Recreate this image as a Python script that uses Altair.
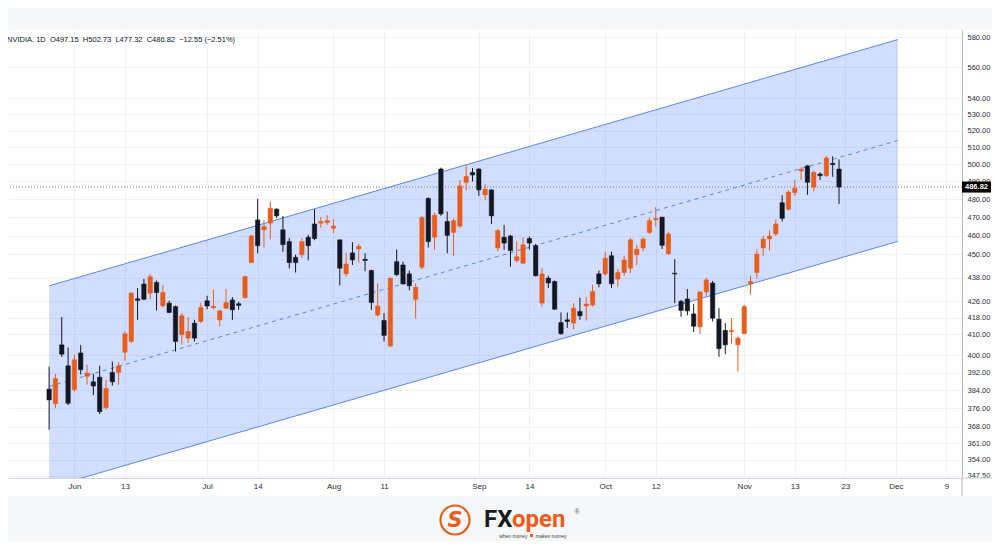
import altair as alt
import pandas as pd

# ---- data (NVIDIA daily candles, bar index 0 = 25 May) ----
opens = [384.5, 378.0, 404.9, 395.1, 384.2, 401.1, 390.3, 387.8, 389.9, 376.3,
         392.1, 392.1, 401.4, 406.5, 427.3, 434.7, 430.1, 435.5, 423.8, 425.1,
         423.4, 409.7, 408.1, 415.3, 416.1, 426.3, 422.8, 416.9, 422.6, 426.7,
         424.8, 427.8, 445.7, 468.5, 463.1, 466.7, 474.4, 463.1, 456.8, 448.5,
         449.8, 459.1, 466.3, 466.7, 467.0, 463.9, 457.7, 439.9, 450.8, 452.9,
         447.5, 441.6, 419.2, 416.6, 404.4, 446.2, 444.5, 439.9, 427.0, 443.3,
         480.4, 459.1, 497.2, 467.6, 461.7, 465.1, 489.5, 495.2, 497.2, 482.4,
         485.2, 453.4, 459.1, 459.8, 446.8, 445.4, 458.4, 454.6, 425.1, 437.7,
         436.0, 415.6, 416.9, 415.3, 421.0, 423.7, 424.2, 439.9, 439.9, 449.3,
         437.2, 440.6, 442.8, 449.8, 453.4, 461.7, 468.5, 470.0, 450.3, 440.3,
         426.0, 427.2, 419.8, 413.5, 430.7, 435.2, 417.2, 411.8, 411.2, 404.9,
         410.2, 434.8, 440.6, 453.4, 458.2, 460.9, 478.0, 474.4, 483.7, 496.0,
         499.0, 486.8, 494.3, 493.3, 500.5, 497.15]
highs = [394.8, 391.4, 418.3, 403.6, 400.2, 404.9, 395.6, 391.4, 395.1, 388.7,
         397.1, 396.7, 411.3, 430.6, 432.7, 437.3, 439.8, 436.5, 434.2, 426.3,
         423.9, 420.2, 418.2, 416.9, 425.4, 428.8, 431.8, 421.8, 432.2, 428.1,
         425.8, 438.9, 460.4, 480.1, 468.5, 478.6, 474.9, 470.7, 458.6, 449.8,
         458.6, 460.4, 474.4, 470.2, 471.1, 468.8, 458.0, 450.8, 456.5, 455.6,
         450.6, 442.0, 435.1, 420.2, 438.0, 452.6, 446.2, 441.6, 435.1, 470.7,
         481.0, 472.4, 498.0, 473.1, 469.3, 490.8, 499.3, 497.7, 497.6, 488.5,
         485.6, 463.5, 465.8, 460.4, 456.8, 459.1, 459.5, 455.6, 442.8, 438.9,
         436.5, 420.5, 420.5, 425.1, 427.8, 428.2, 434.3, 441.6, 451.4, 451.4,
         442.3, 449.3, 458.6, 454.9, 459.1, 469.8, 475.6, 470.2, 462.1, 447.5,
         426.7, 432.2, 424.7, 430.9, 437.7, 436.3, 422.6, 415.3, 417.7, 408.9,
         424.2, 438.9, 452.6, 459.8, 462.7, 468.8, 482.2, 484.9, 490.9, 498.2,
         499.5, 496.3, 495.2, 504.8, 504.7, 502.73]
lows = [366.7, 376.0, 399.3, 377.5, 383.4, 391.1, 386.5, 381.8, 373.5, 375.3,
        386.1, 386.5, 397.5, 405.8, 416.9, 426.7, 427.0, 421.5, 422.9, 420.2,
        401.8, 405.0, 405.8, 406.5, 415.3, 422.1, 422.0, 413.8, 422.1, 416.9,
        421.8, 427.5, 445.4, 450.6, 453.7, 458.0, 469.5, 451.4, 442.7, 440.6,
        448.1, 446.8, 457.5, 464.2, 465.8, 461.4, 434.0, 438.4, 444.5, 445.7,
        441.2, 421.8, 418.4, 406.5, 403.7, 438.7, 434.3, 431.5, 417.5, 442.3,
        453.7, 452.4, 470.8, 450.6, 449.3, 463.9, 485.0, 490.0, 481.8, 479.3,
        466.3, 451.6, 452.4, 443.6, 445.7, 445.0, 452.6, 438.6, 423.4, 432.7,
        421.8, 409.7, 413.0, 412.4, 416.9, 416.6, 423.4, 433.1, 438.9, 432.7,
        433.4, 438.9, 440.2, 444.5, 451.6, 460.8, 464.8, 452.9, 449.8, 425.1,
        418.4, 419.1, 411.0, 410.1, 428.9, 416.1, 399.3, 400.5, 405.4, 392.4,
        410.0, 429.4, 437.7, 449.3, 452.0, 459.8, 467.6, 473.7, 481.9, 490.8,
        482.4, 484.4, 490.8, 492.6, 492.7, 477.32]
closes = [379.7, 389.3, 400.5, 378.2, 397.9, 393.3, 391.8, 385.9, 374.5, 384.8,
          387.8, 395.1, 410.2, 430.1, 426.5, 427.0, 438.4, 430.4, 430.4, 420.5,
          406.5, 418.9, 411.3, 408.1, 423.0, 423.7, 423.6, 421.3, 425.4, 421.8,
          424.0, 438.5, 459.8, 454.6, 464.8, 474.9, 470.7, 455.1, 445.7, 445.7,
          456.8, 454.6, 458.4, 467.7, 468.1, 465.1, 442.8, 445.0, 447.1, 454.3,
          446.8, 425.4, 423.7, 409.4, 437.7, 439.5, 434.8, 433.8, 433.1, 469.8,
          456.8, 471.1, 471.8, 460.1, 468.1, 487.5, 492.9, 493.7, 485.2, 485.6,
          470.7, 462.7, 456.0, 452.0, 448.8, 455.1, 456.0, 438.9, 439.9, 435.2,
          422.1, 410.2, 416.1, 422.6, 418.9, 424.7, 430.9, 434.8, 448.0, 434.8,
          440.6, 447.1, 457.7, 452.8, 458.1, 468.1, 469.3, 454.8, 460.9, 439.8,
          421.5, 421.3, 413.8, 430.7, 436.8, 417.7, 403.1, 404.9, 411.8, 408.1,
          423.4, 436.0, 450.2, 458.1, 459.8, 466.3, 469.3, 484.0, 486.1, 497.0,
          489.5, 495.2, 493.3, 503.6, 499.7, 486.82]

# parallel channel anchor points (bar index, price)
channel_idx = [0.0, 134.3]
channel_upper = [433.8, 578.3]
channel_mid = [385.7, 514.0]
channel_lower = [342.8, 456.9]

x_ticks = [4, 12, 25, 33, 45, 53, 68, 76, 88, 96, 110, 118, 126, 134, 142]
x_labels = ["Jun", "13", "Jul", "14", "Aug", "11", "Sep", "14", "Oct", "12",
            "Nov", "13", "23", "Dec", "9"]
y_ticks = [347.5, 354, 361, 368, 376, 384, 392, 400, 410, 418, 426, 438, 450,
           460, 470, 480, 490, 500, 510, 520, 530, 540, 560, 580]

header = "NVIDIA, 1D \u00a0O497.15 \u00a0H502.73 \u00a0L477.32 \u00a0C486.82 \u00a0\u221212.55 (\u22122.51%)"
last_price = closes[-1]

ORANGE = "#e85d1c"
BLACK = "#131722"
CH = "#5a86f0"
FONT = "Liberation Sans"

# ---- tables ----
cdf = pd.DataFrame({"idx": list(range(len(closes))), "open": opens, "high": highs,
                    "low": lows, "close": closes})
cdf["dir"] = ["up" if c >= o else "down" for o, c in zip(opens, closes)]
cdf["body_lo"] = cdf[["open", "close"]].min(axis=1)
cdf["body_hi"] = cdf[["open", "close"]].max(axis=1)

chdf = pd.DataFrame({"idx": channel_idx, "upper": channel_upper,
                     "mid": channel_mid, "lower": channel_lower})
one = pd.DataFrame({"a": [0]})
pdf = pd.DataFrame({"price": [last_price], "label": [f"{last_price:.2f}"]})

# ---- scales / axes ----
label_expr = " : ".join(f"datum.value == {t} ? '{l}'" for t, l in zip(x_ticks, x_labels)) + " : ''"
xscale = alt.Scale(domain=[-5.716, 143.67], nice=False, zero=False)
yscale = alt.Scale(type="log", domain=[346.6, 584.8], nice=False, zero=False)
xaxis = alt.Axis(values=x_ticks, labelExpr=label_expr, title=None, ticks=False,
                 labelPadding=4, labelFontSize=8, labelFont=FONT, labelColor="#2a2e39",
                 gridColor="#eef1f6", domainColor="#d1d4dc", labelOverlap=False,
                 labelFlush=False)
yaxis = alt.Axis(orient="right", values=y_ticks, format=".2f", title=None, ticks=False,
                 labelPadding=5, labelFontSize=7.5, labelFont=FONT, labelColor="#2a2e39",
                 gridColor="#eef1f6", domainColor="#b2b5be", labelOverlap=False,
                 labelFlush=False)


def X(f):
    return alt.X(f"{f}:Q", scale=xscale, axis=xaxis)


def Y(f):
    return alt.Y(f"{f}:Q", scale=yscale, axis=yaxis)


cscale = alt.Scale(domain=["up", "down"], range=[ORANGE, BLACK])

# ---- layers ----
band_top = alt.Chart(one).mark_rect(color="#f6f7f9").encode(
    x=alt.value(-8), x2=alt.value(990), y=alt.value(-22), y2=alt.value(0))
band_bot = alt.Chart(one).mark_rect(color="#f6f7f9").encode(
    x=alt.value(-8), x2=alt.value(990), y=alt.value(466), y2=alt.value(520))
sep_v = alt.Chart(one).mark_rule(color="#b2b5be").encode(
    x=alt.value(954), y=alt.value(448), y2=alt.value(466))
sep_h = alt.Chart(one).mark_rule(color="#d1d4dc").encode(
    x=alt.value(954), x2=alt.value(990), y=alt.value(448))

area = alt.Chart(chdf).mark_area(color="#2962ff", opacity=0.21, clip=True).encode(
    x=X("idx"), y=Y("lower"), y2="upper")
up_line = alt.Chart(chdf).mark_line(color=CH, strokeWidth=1, clip=True).encode(
    x=X("idx"), y=Y("upper"))
lo_line = alt.Chart(chdf).mark_line(color=CH, strokeWidth=1, clip=True).encode(
    x=X("idx"), y=Y("lower"))
mid_line = alt.Chart(chdf).mark_line(color=CH, strokeWidth=1, strokeDash=[4, 4],
                                     clip=True).encode(x=X("idx"), y=Y("mid"))

price_rule = alt.Chart(pdf).mark_rule(color="#787b86", strokeDash=[1, 2],
                                      strokeWidth=1).encode(y=Y("price"))

wicks = alt.Chart(cdf).mark_rule(strokeWidth=1).encode(
    x=X("idx"), y=Y("low"), y2="high",
    color=alt.Color("dir:N", scale=cscale, legend=None))
bodies = alt.Chart(cdf).mark_bar(size=4.4, strokeWidth=0.5).encode(
    x=X("idx"), y=Y("body_lo"), y2="body_hi",
    color=alt.Color("dir:N", scale=cscale, legend=None),
    stroke=alt.Stroke("dir:N", scale=cscale, legend=None))

price_box = alt.Chart(pdf).mark_point(
    shape="M-1,-0.38L1,-0.38L1,0.38L-1,0.38Z", size=841, filled=True,
    color="#000000", opacity=1).encode(x=alt.value(968.5), y=Y("price"))
price_txt = alt.Chart(pdf).mark_text(color="white", fontSize=7.5, font=FONT,
                                     fontWeight="bold", align="center",
                                     baseline="middle").encode(
    x=alt.value(968.5), y=Y("price"), text="label:N")

head = alt.Chart(one).mark_text(text=header, align="left", baseline="middle",
                                fontSize=7.5, font=FONT, color="#131722").encode(
    x=alt.value(-1), y=alt.value(10))

# ---- logo ----
ring = alt.Chart(one).mark_point(shape="circle", filled=False, size=841,
                                 strokeWidth=2.2, color=ORANGE, opacity=1).encode(
    x=alt.value(447), y=alt.value(490))
emblem = alt.Chart(one).mark_text(text="S", fontSize=21, font="DejaVu Sans",
                                  fontWeight="bold", fontStyle="italic",
                                  color=ORANGE, align="center",
                                  baseline="middle").encode(
    x=alt.value(447), y=alt.value(491))
fx = alt.Chart(one).mark_text(text="FX", fontSize=24, font="Roboto",
                              fontWeight="bold", color="#1a1a1a", align="left",
                              baseline="alphabetic").encode(
    x=alt.value(476), y=alt.value(497))
opn = alt.Chart(one).mark_text(text="open", fontSize=24, font="Roboto",
                               fontWeight="bold", color="#f05a1a", align="left",
                               baseline="alphabetic").encode(
    x=alt.value(504), y=alt.value(497))
reg = alt.Chart(one).mark_text(text="\u00ae", fontSize=7, font=FONT,
                               color="#666666", align="center",
                               baseline="middle").encode(
    x=alt.value(569), y=alt.value(482))
tag1 = alt.Chart(one).mark_text(text="when money", fontSize=5, font=FONT,
                                color="#444444", align="right",
                                baseline="middle").encode(
    x=alt.value(519.5), y=alt.value(505.5))
tagsq = alt.Chart(one).mark_point(shape="square", filled=True, size=9,
                                  color="#f05a1a", opacity=1).encode(
    x=alt.value(523.5), y=alt.value(505.5))
tag2 = alt.Chart(one).mark_text(text="makes money", fontSize=5, font=FONT,
                                color="#444444", align="left",
                                baseline="middle").encode(
    x=alt.value(527.5), y=alt.value(505.5))

chart = alt.layer(
    band_top, band_bot, area, up_line, lo_line, mid_line, price_rule,
    wicks, bodies, sep_v, sep_h, price_box, price_txt, head,
    ring, emblem, fx, opn, reg, tag1, tagsq, tag2
).properties(
    width=954, height=448,
    autosize=alt.AutoSizeParams(type="none"),
    padding={"left": 0, "top": 22, "right": 30, "bottom": 63},
    background="white",
).configure_view(stroke=None)

chart.save("out.html", embed_options={"renderer": "svg", "actions": False})
